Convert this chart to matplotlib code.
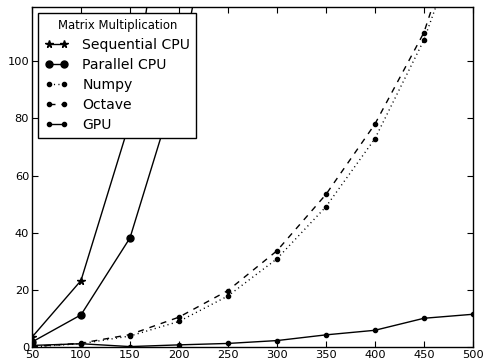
import matplotlib
matplotlib.use("Agg")
import matplotlib.pyplot as plt

# Розміри матриць
sizes = [50, 100, 150, 200, 250, 300, 350, 400, 450, 500]

# Час виконання (с)
sequential_cpu = [3.5, 23.3, 79, 195, 375, 645, 1020, 1525, 2165, 2965]
parallel_cpu = [1.8, 11.3, 38.2, 94, 184, 315, 500, 745, 1060, 1455]
numpy_times = [0.1, 1.2, 3.9, 9.0, 17.9, 30.9, 49.1, 72.9, 107.4, 155]
octave_times = [0.2, 1.4, 4.4, 10.5, 19.8, 33.7, 53.4, 78.0, 110.0, 162]
gpu_times = [0.6, 1.2, 0.2, 0.8, 1.3, 2.3, 4.3, 5.9, 10.1, 11.5]

fig = plt.figure(figsize=(4.85, 3.62), dpi=100)
ax = fig.add_axes([0.066, 0.041, 0.909, 0.94])

ax.plot(sizes, sequential_cpu, "k-", marker="*", markersize=5.5, lw=1, label="Sequential CPU")
ax.plot(sizes, parallel_cpu, "k-", marker="o", markersize=5, lw=1, label="Parallel CPU")
ax.plot(sizes, numpy_times, "k:", marker="o", markersize=3, lw=1, dashes=(0.8, 2.4),
        label="Numpy")
ax.plot(sizes, octave_times, "k--", marker="o", markersize=3, lw=1, dashes=(4.3, 4.3),
        label="Octave")
ax.plot(sizes, gpu_times, "k-", marker="o", markersize=3, lw=1, label="GPU")

ax.set_xlim(50, 500)
ax.set_ylim(0, 119)
ax.set_xticks(range(50, 501, 50))
ax.set_yticks(range(0, 101, 20))
ax.tick_params(direction="in", top=True, right=True, length=4, labelsize=8.2, pad=2)
for s in ax.spines.values():
    s.set_linewidth(1)

leg = ax.legend(loc="upper left", title="Matrix Multiplication", numpoints=2,
                fontsize=10.1, title_fontsize=8.4, fancybox=False, framealpha=1,
                edgecolor="black", handlelength=1.7, handletextpad=1.0,
                borderaxespad=0.43, labelspacing=0.42, borderpad=0.45)
leg.get_frame().set_linewidth(1)

fig.savefig("out.png", dpi=100)
